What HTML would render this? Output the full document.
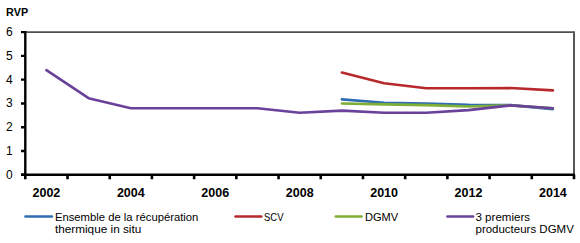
<!DOCTYPE html><html><head><meta charset="utf-8"><style>html,body{margin:0;padding:0;background:#fff;width:580px;height:243px;overflow:hidden}svg{display:block}text{font-family:"Liberation Sans",sans-serif}</style></head><body><svg width="580" height="243" viewBox="0 0 580 243">
<rect width="580" height="243" fill="#fff"/>
<path d="M25.3 32.1H574.0V174.8" fill="none" stroke="#505050" stroke-width="1.9"/>
<path d="M25.3 31.1V174.8M21 174.80H25.3M21 151.02H25.3M21 127.23H25.3M21 103.45H25.3M21 79.67H25.3M21 55.88H25.3M21 32.10H25.3" fill="none" stroke="#000" stroke-width="2.4"/>
<path d="M21 174.8H575.0M25.30 174.8V179.2M67.51 174.8V179.2M109.72 174.8V179.2M151.92 174.8V179.2M194.13 174.8V179.2M236.34 174.8V179.2M278.55 174.8V179.2M320.75 174.8V179.2M362.96 174.8V179.2M405.17 174.8V179.2M447.38 174.8V179.2M489.58 174.8V179.2M531.79 174.8V179.2M574.00 174.8V179.2" fill="none" stroke="#000" stroke-width="2.6"/>
<text x="12.8" y="178.7" text-anchor="end" font-family="Liberation Sans" font-size="12">0</text>
<text x="12.8" y="154.9" text-anchor="end" font-family="Liberation Sans" font-size="12">1</text>
<text x="12.8" y="131.1" text-anchor="end" font-family="Liberation Sans" font-size="12">2</text>
<text x="12.8" y="107.4" text-anchor="end" font-family="Liberation Sans" font-size="12">3</text>
<text x="12.8" y="83.6" text-anchor="end" font-family="Liberation Sans" font-size="12">4</text>
<text x="12.8" y="59.8" text-anchor="end" font-family="Liberation Sans" font-size="12">5</text>
<text x="12.8" y="36.0" text-anchor="end" font-family="Liberation Sans" font-size="12">6</text>
<text x="6.1" y="15.9" font-family="Liberation Sans" font-weight="bold" font-size="11.2" textLength="22" lengthAdjust="spacingAndGlyphs">RVP</text>
<text x="46.4" y="196.9" text-anchor="middle" font-family="Liberation Sans" font-weight="bold" font-size="12.5">2002</text>
<text x="130.8" y="196.9" text-anchor="middle" font-family="Liberation Sans" font-weight="bold" font-size="12.5">2004</text>
<text x="215.2" y="196.9" text-anchor="middle" font-family="Liberation Sans" font-weight="bold" font-size="12.5">2006</text>
<text x="299.7" y="196.9" text-anchor="middle" font-family="Liberation Sans" font-weight="bold" font-size="12.5">2008</text>
<text x="384.1" y="196.9" text-anchor="middle" font-family="Liberation Sans" font-weight="bold" font-size="12.5">2010</text>
<text x="468.5" y="196.9" text-anchor="middle" font-family="Liberation Sans" font-weight="bold" font-size="12.5">2012</text>
<text x="552.9" y="196.9" text-anchor="middle" font-family="Liberation Sans" font-weight="bold" font-size="12.5">2014</text>
<polyline points="341.9,99.4 384.1,102.7 426.3,103.5 468.5,104.9 510.7,105.1 552.9,109.2" stroke="#2F6DB3" fill="none" stroke-width="2.6" stroke-linecap="round" stroke-linejoin="round"/>
<polyline points="341.9,72.5 384.1,83.2 426.3,88.2 468.5,88.2 510.7,88.0 552.9,90.4" stroke="#B8292D" fill="none" stroke-width="2.6" stroke-linecap="round" stroke-linejoin="round"/>
<polyline points="341.9,103.5 384.1,104.4 426.3,105.1 468.5,106.5 510.7,105.4 552.9,108.2" stroke="#80AF38" fill="none" stroke-width="2.6" stroke-linecap="round" stroke-linejoin="round"/>
<polyline points="46.4,70.2 88.6,98.2 130.8,108.2 173.0,108.2 215.2,108.2 257.4,108.2 299.7,112.7 341.9,110.6 384.1,112.7 426.3,112.7 468.5,110.1 510.7,105.4 552.9,108.2" stroke="#6A419B" fill="none" stroke-width="2.6" stroke-linecap="round" stroke-linejoin="round"/>
<path d="M25.5 216.5H51.9" stroke="#2F6DB3" stroke-width="2.6" stroke-linecap="round"/>
<path d="M235.5 216.5H261.3" stroke="#B8292D" stroke-width="2.6" stroke-linecap="round"/>
<path d="M335.8 216.5H361.6" stroke="#80AF38" stroke-width="2.6" stroke-linecap="round"/>
<path d="M447.4 216.5H473.1" stroke="#6A419B" stroke-width="2.6" stroke-linecap="round"/>
<text x="54.9" y="220.8" font-family="Liberation Sans" font-size="11.5" textLength="143.5" lengthAdjust="spacingAndGlyphs">Ensemble de la récupération</text>
<text x="54.9" y="232.8" font-family="Liberation Sans" font-size="11.5" textLength="86.4" lengthAdjust="spacingAndGlyphs">thermique in situ</text>
<text x="264.0" y="220.8" font-family="Liberation Sans" font-size="11.5" textLength="19.5" lengthAdjust="spacingAndGlyphs">SCV</text>
<text x="364.9" y="220.8" font-family="Liberation Sans" font-size="11.5" textLength="33.2" lengthAdjust="spacingAndGlyphs">DGMV</text>
<text x="475.5" y="220.8" font-family="Liberation Sans" font-size="11.5" textLength="54.5" lengthAdjust="spacingAndGlyphs">3 premiers</text>
<text x="475.5" y="232.8" font-family="Liberation Sans" font-size="11.5" textLength="98.3" lengthAdjust="spacingAndGlyphs">producteurs DGMV</text>
</svg></body></html>
